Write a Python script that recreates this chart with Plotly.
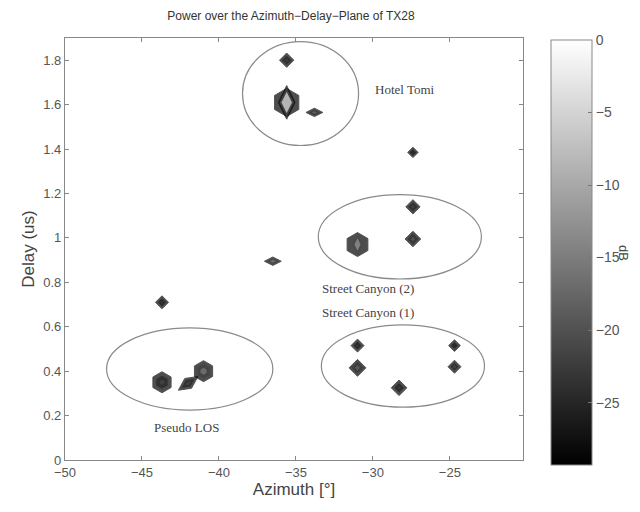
import plotly.graph_objects as go

# ---- data ----
azimuth_deg = [-35.6, -35.6, -33.8, -27.4, -27.4, -27.4, -31.0, -36.5, -43.7, -43.7, -41.0, -42.0, -31.0, -31.0, -28.3, -24.7, -24.7]
delay_us    = [1.80, 1.61, 1.565, 1.385, 1.14, 0.995, 0.97, 0.895, 0.71, 0.35, 0.40, 0.345, 0.515, 0.415, 0.325, 0.515, 0.42]
edge_db     = [-29, -29, -29, -29, -29, -29, -29, -29, -29, -29, -29, -29, -29, -29, -29, -29, -29]
mid_db      = [-25, -20, -23, -26, -25, -24, -21, -21, -26, -25, -22, -25, -26, -23, -26, -26, -25]
peak_db     = [-22, -3, -17, -24, -21, -19, -12, -15, -23, -21, -15, -21, -23, -18, -22, -24, -21]

region_names = ["Hotel Tomi", "Street Canyon (2)", "Street Canyon (1)", "Pseudo LOS"]
region_az    = [-34.7, -28.25, -28.05, -41.9]
region_delay = [1.65, 1.005, 0.423, 0.41]
region_daz   = [3.77, 5.3, 5.3, 5.4]
region_ddel  = [0.234, 0.19, 0.185, 0.185]

label_text  = ["Hotel Tomi", "Street Canyon (2)", "Street Canyon (1)", "Pseudo LOS"]
label_az    = [-27.9, -30.3, -30.3, -42.1]
label_delay = [1.67, 0.77, 0.665, 0.145]

x_ticks = [-50, -45, -40, -35, -30, -25]
x_tick_text = ["\u221250", "\u221245", "\u221240", "\u221235", "\u221230", "\u221225"]
y_ticks = [0, 0.2, 0.4, 0.6, 0.8, 1.0, 1.2, 1.4, 1.6, 1.8]
y_tick_text = ["0", "0.2", "0.4", "0.6", "0.8", "1", "1.2", "1.4", "1.6", "1.8"]
cb_ticks = [0, -5, -10, -15, -20, -25]
cb_tick_text = ["0", "\u22125", "\u221210", "\u221215", "\u221220", "\u221225"]
db_min, db_max = -29.3, 0

# ---- styles (per blob) ----
under_symbol = ["diamond", "diamond-tall", "diamond", "diamond", "diamond", "diamond", "diamond", "diamond",
                "diamond", "diamond", "diamond", "diamond", "diamond", "diamond", "diamond", "diamond", "diamond"]
under_size = [0, 24, 0, 0, 0, 0, 0, 0, 0, 0, 0, 0, 0, 0, 0, 0, 0]
outer_symbol = ["diamond", "hexagon", "diamond-wide", "diamond", "diamond", "diamond", "hexagon", "diamond-wide",
                "diamond", "hexagon", "hexagon", "diamond-wide", "diamond", "diamond", "diamond", "diamond", "diamond"]
outer_size = [11, 28, 12, 8, 11, 12, 24, 12, 10, 21, 21, 17, 10, 13, 12, 9, 10]
blob_angle = [0, 0, 0, 0, 0, 0, 0, 0, 0, 0, 0, -35, 0, 0, 0, 0, 0]
mid_symbol = ["diamond", "diamond-tall", "diamond-wide", "diamond", "diamond", "diamond", "diamond-tall", "diamond-wide",
              "diamond", "hexagon", "hexagon", "diamond-wide", "diamond", "diamond", "diamond", "diamond", "diamond"]
mid_size = [7, 21, 8, 5, 7, 8, 15, 8, 6, 13, 14, 11, 6, 9, 7, 5, 6]
inner_size = [3, 15, 4, 2, 3, 4, 9, 4, 3, 5, 7, 5, 3, 4, 3, 2, 3]

gray_scale = [[0, "black"], [1, "white"]]

fig = go.Figure()
for sym, size, col, lw in [(under_symbol, under_size, edge_db, 1.0),
                           (outer_symbol, outer_size, edge_db, 1.0),
                           (mid_symbol, mid_size, mid_db, 0),
                           (mid_symbol, inner_size, peak_db, 0)]:
    fig.add_trace(go.Scatter(
        x=azimuth_deg, y=delay_us, mode="markers", hoverinfo="skip", showlegend=False,
        marker=dict(symbol=sym, size=size, angle=blob_angle, color=col, coloraxis="coloraxis",
                    line=dict(width=lw, color="#0a0a0a")),
    ))

shapes = []
for cx, cy, dx, dy in zip(region_az, region_delay, region_daz, region_ddel):
    shapes.append(dict(type="circle", xref="x", yref="y", x0=cx - dx, x1=cx + dx, y0=cy - dy, y1=cy + dy,
                       line=dict(color="#8a8a8a", width=1.2), layer="below"))

annotations = []
for t, ax_, ay_ in zip(label_text, label_az, label_delay):
    annotations.append(dict(x=ax_, y=ay_, xref="x", yref="y", text=t, showarrow=False,
                            font=dict(family="Liberation Serif", size=13, color="#444444")))
annotations.append(dict(x=1.221, y=0.49, xref="paper", yref="paper", text="dB", showarrow=False,
                        xanchor="center", yanchor="middle",
                        textangle=90, font=dict(family="Liberation Sans", size=13, color="#444444")))

# the page body adds an 8px margin, so the figure is drawn 8px in from the window corner
fig.update_layout(
    width=624, height=496,
    margin=dict(l=57, r=109, t=30, b=44, autoexpand=False),
    paper_bgcolor="white", plot_bgcolor="white",
    title=dict(text="Power over the Azimuth\u2212Delay\u2212Plane of TX28", x=0.4535, xanchor="center",
               y=0.992, yanchor="top", font=dict(family="Liberation Sans", size=12, color="#333333")),
    font=dict(family="Liberation Sans", color="#444444"),
    shapes=shapes, annotations=annotations,
    coloraxis=dict(colorscale=gray_scale, cmin=db_min, cmax=db_max,
                   colorbar=dict(x=1.061, xanchor="left", xpad=0, y=0.4917, yanchor="middle",
                                 thickness=41, len=425, lenmode="pixels", ypad=0,
                                 outlinecolor="#888888", outlinewidth=1,
                                 tickvals=cb_ticks, ticktext=cb_tick_text,
                                 ticks="inside", ticklen=4, tickcolor="#777777",
                                 tickfont=dict(family="Liberation Sans", size=14, color="#555555"))),
    xaxis=dict(range=[-50, -20.25], tickvals=x_ticks, ticktext=x_tick_text, automargin=False,
               ticks="inside", ticklen=4, tickcolor="#888888", showgrid=False, zeroline=False,
               showline=True, linecolor="#888888", linewidth=1.2, mirror="ticks",
               tickfont=dict(size=13, color="#555555"),
               title=dict(text="Azimuth [\u00b0]", font=dict(size=17, color="#444444"), standoff=2)),
    yaxis=dict(range=[0, 1.9], tickvals=y_ticks, ticktext=y_tick_text, automargin=False,
               ticks="inside", ticklen=4, tickcolor="#888888", showgrid=False, zeroline=False,
               showline=True, linecolor="#888888", linewidth=1.2, mirror="ticks",
               tickfont=dict(size=13, color="#555555"),
               title=dict(text="Delay (us)", font=dict(size=17, color="#444444"), standoff=4)),
)

fig.write_html("out.html")
